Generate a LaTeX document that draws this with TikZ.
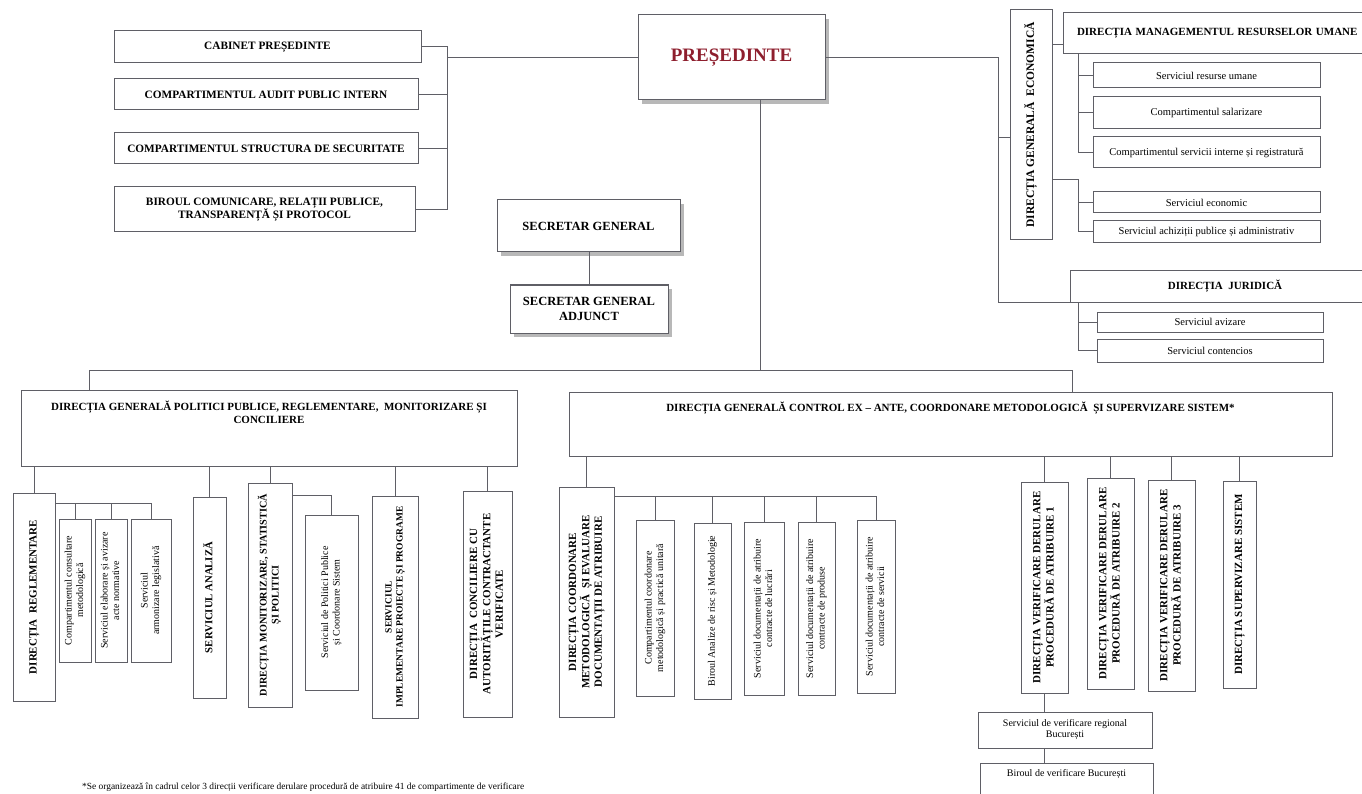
\documentclass[tikz,border=0pt]{standalone}
\usepackage{fontspec}
\setmainfont{Liberation Serif}
\usepackage{graphicx}
\usepackage{tikz}
\usetikzlibrary{shadows}
\definecolor{rule}{HTML}{5F5F66}
\definecolor{presred}{HTML}{8E1F2E}
\newcommand{\vt}[1]{\rotatebox{90}{\begin{tabular}{@{}c@{}}#1\end{tabular}}}

\begin{document}
\begin{tikzpicture}[x=1pt,y=-1pt,
box/.style={draw=rule,line width=1pt,fill=white,inner sep=0pt,outer sep=0pt,anchor=north west,align=center},
hcap/.style={box,font=\fontsize{11.3}{13}\selectfont\bfseries},
hsm/.style={box,font=\fontsize{10.5}{12}\selectfont},
vcap/.style={box,font=\fontsize{10.5}{12}\selectfont\bfseries},
vsm/.style={box,font=\fontsize{10}{11.5}\selectfont},
boss/.style={box,drop shadow={shadow xshift=4pt,shadow yshift=-4pt,fill=black!55},font=\fontsize{12.5}{15}\selectfont\bfseries},
ln/.style={draw=rule,line width=1pt},
note/.style={font=\fontsize{9.4}{10}\selectfont,anchor=west,inner sep=0pt}]
\useasboundingbox (0,0) rectangle (1362,794);
\clip (0,0) rectangle (1362,794);
\fill[white] (0,0) rectangle (1362,794);
% conducere
\node[box,drop shadow={shadow xshift=4pt,shadow yshift=-4pt,fill=black!55},minimum width=187pt,minimum height=85pt,font=\fontsize{19}{22}\selectfont\bfseries,text=presred] (pres) at (638,15) {PREȘEDINTE};
\node[boss,minimum width=183pt,minimum height=52pt] (sg) at (497,200) {SECRETAR GENERAL};
\node[boss,minimum width=158pt,minimum height=48pt] (sga) at (510,285) {SECRETAR GENERAL\\ADJUNCT};
\draw[ln] (sg.south -| sga.north) -- (sga.north);
% subordonate direct presedintelui
\node[hcap,minimum width=307pt,minimum height=32pt] (cab) at (114,31) {CABINET PREȘEDINTE};
\node[hcap,minimum width=304pt,minimum height=31pt] (audit) at (114,79) {COMPARTIMENTUL AUDIT PUBLIC INTERN};
\node[hcap,minimum width=304pt,minimum height=31pt] (secur) at (114,133) {COMPARTIMENTUL STRUCTURA DE SECURITATE};
\node[hcap,minimum width=301pt,minimum height=45pt] (birou) at (114,187) {BIROUL COMUNICARE, RELAȚII PUBLICE,\\TRANSPARENȚĂ ȘI PROTOCOL};
\coordinate (lbus) at (447,53);
\draw[ln] (pres.west) -- (pres.west -| lbus);
\draw[ln] (cab.east) -- (cab.east -| lbus) -- (birou.east -| lbus) -- (birou.east);
\draw[ln] (audit.east) -- (audit.east -| lbus);
\draw[ln] (secur.east) -- (secur.east -| lbus);
% directia generala economica
\node[vcap,minimum width=42pt,minimum height=230pt,font=\fontsize{11.5}{13}\selectfont\bfseries] (dge) at (1010,10) {\vt{DIRECȚIA GENERALĂ~ ECONOMICĂ}};
\node[hcap,minimum height=41pt,text width=300pt,inner xsep=14pt,align=left,font=\fontsize{11}{13}\selectfont\bfseries] (dmru) at (1063,13) {DIRECȚIA MANAGEMENTUL RESURSELOR UMANE};
\node[hsm,minimum width=227pt,minimum height=25pt] (sru) at (1093,63) {Serviciul resurse umane};
\node[hsm,minimum width=227pt,minimum height=32pt] (sal) at (1093,97) {Compartimentul salarizare};
\node[hsm,minimum width=227pt,minimum height=31pt] (sir) at (1093,137) {Compartimentul servicii interne și registratură};
\node[hsm,minimum width=227pt,minimum height=21pt] (sec) at (1093,192) {Serviciul economic};
\node[hsm,minimum width=227pt,minimum height=22pt] (sap) at (1093,221) {Serviciul achiziții publice și administrativ};
\coordinate (ebus) at (1078,180);
\draw[ln] ([yshift=-35pt]dge.north east) -- ([yshift=-35pt]dge.north east -| dmru.west) ;
\draw[ln] (dmru.south -| ebus) |- (sir.west);
\draw[ln] (sru.west -| ebus) -- (sru.west);
\draw[ln] (sal.west -| ebus) -- (sal.west);
\draw[ln] (dge.east |- ebus) -- (ebus) |- (sap.west);
\draw[ln] (sec.west -| ebus) -- (sec.west);
% directia juridica
\node[hcap,minimum width=310pt,minimum height=31pt,font=\fontsize{11}{13}\selectfont\bfseries] (jur) at (1070,271) {DIRECȚIA~ JURIDICĂ};
\node[hsm,minimum width=226pt,minimum height=20pt] (sav) at (1097,312) {Serviciul avizare};
\node[hsm,minimum width=226pt,minimum height=23pt] (scont) at (1097,339) {Serviciul contencios};
\coordinate (rbus) at (998,302);
\draw[ln] (pres.east) -| (rbus) -- (jur.south west);
\draw[ln] ([yshift=-13pt]dge.west -| rbus) -- ([yshift=-13pt]dge.west);
\draw[ln] (jur.south -| ebus) |- (scont.west);
\draw[ln] (sav.west -| ebus) -- (sav.west);
% directii generale
\node[hcap,minimum width=496pt,minimum height=76pt,font=\fontsize{11}{13}\selectfont\bfseries] (dgpp) at (21,390) {\parbox[c][76pt][t]{480pt}{\vspace*{11pt}\centering DIRECȚIA GENERALĂ POLITICI PUBLICE, REGLEMENTARE,~ MONITORIZARE ȘI\\CONCILIERE}};
\node[hcap,minimum width=763pt,minimum height=64pt,font=\fontsize{11}{13}\selectfont\bfseries] (dgc) at (569,392) {\parbox[c][64pt][t]{750pt}{\vspace*{10pt}\centering DIRECȚIA GENERALĂ CONTROL EX – ANTE, COORDONARE METODOLOGICĂ~ ȘI SUPERVIZARE SISTEM*}};
\coordinate (mbus) at (760,370);
\coordinate (bl) at (89,370);
\coordinate (br) at (1072,370);
\draw[ln] (pres.south -| mbus) -- (mbus);
\draw[ln] (dgpp.north -| bl) -- (bl) -- (br) -- (dgc.north -| br);
% politici publice
\node[vcap,minimum width=42pt,minimum height=208pt,font=\fontsize{11}{12.5}\selectfont\bfseries] (reg) at (13,493) {\vt{DIRECȚIA~ REGLEMENTARE}};
\node[vsm,minimum width=32pt,minimum height=143pt] (cmet) at (59,519) {\vt{Compartimentul consultare\\metodologică}};
\node[vsm,minimum width=32pt,minimum height=143pt] (selab) at (95,519) {\vt{Serviciul elaborare și avizare\\acte normative}};
\node[vsm,minimum width=40pt,minimum height=143pt] (sarm) at (131,519) {\vt{Serviciul\\armonizare legislativă}};
\node[vcap,minimum width=33pt,minimum height=201pt,font=\fontsize{10.7}{12}\selectfont\bfseries] (anal) at (193,497) {\vt{SERVICIUL ANALIZĂ}};
\node[vcap,minimum width=44pt,minimum height=224pt,font=\fontsize{10.2}{12}\selectfont\bfseries] (mon) at (248,483) {\vt{DIRECȚIA MONITORIZARE, STATISTICĂ\\ȘI POLITICI}};
\node[vsm,minimum width=53pt,minimum height=175pt] (spp) at (305,515) {\vt{Serviciul de Politici Publice\\și Coordonare Sistem}};
\node[vcap,minimum width=46pt,minimum height=222pt,font=\fontsize{9.5}{11}\selectfont\bfseries] (impl) at (372,496) {\vt{SERVICIUL\\IMPLEMENTARE PROIECTE ȘI PROGRAME}};
\node[vcap,minimum width=49pt,minimum height=226pt,font=\fontsize{11}{12.5}\selectfont\bfseries] (conc) at (463,491) {\vt{DIRECȚIA~ CONCILIERE CU\\AUTORITĂȚILE CONTRACTANTE\\VERIFICATE}};
\foreach \n in {reg,anal,mon,impl,conc}
  \draw[ln] (dgpp.south -| \n.north) -- (\n.north);
\draw[ln] ([yshift=-10pt]reg.north east) -| (sarm.north);
\draw[ln] ([yshift=-10pt]reg.north east -| cmet.north) -- (cmet.north);
\draw[ln] ([yshift=-10pt]reg.north east -| selab.north) -- (selab.north);
\draw[ln] ([yshift=-12pt]mon.north east) -| (spp.north);
% control ex-ante
\node[vcap,minimum width=55pt,minimum height=230pt,font=\fontsize{11}{12.5}\selectfont\bfseries] (coord) at (559,487) {\vt{DIRECȚIA COORDONARE\\METODOLOGICĂ~ ȘI EVALUARE\\DOCUMENTAȚII DE ATRIBUIRE}};
\node[vsm,minimum width=38pt,minimum height=176pt] (ccm) at (636,520) {\vt{Compartimentul coordonare\\metodologică și practică unitară}};
\node[vsm,minimum width=37pt,minimum height=176pt] (bar) at (694,523) {\vt{Biroul Analize de risc și Metodologie}};
\node[vsm,minimum width=40pt,minimum height=173pt] (sdl) at (744,522) {\vt{Serviciul documentații de atribuire\\contracte de lucrări}};
\node[vsm,minimum width=37pt,minimum height=173pt] (sdp) at (798,522) {\vt{Serviciul documentații de atribuire\\contracte de produse}};
\node[vsm,minimum width=38pt,minimum height=173pt] (sds) at (857,520) {\vt{Serviciul documentații de atribuire\\contracte de servicii}};
\node[vcap,minimum width=47pt,minimum height=211pt,font=\fontsize{11}{12.5}\selectfont\bfseries] (vf1) at (1021,482) {\vt{DIRECȚIA VERIFICARE DERULARE\\PROCEDURĂ DE ATRIBUIRE 1}};
\node[vcap,minimum width=47pt,minimum height=211pt,font=\fontsize{11}{12.5}\selectfont\bfseries] (vf2) at (1087,478) {\vt{DIRECȚIA VERIFICARE DERULARE\\PROCEDURĂ DE ATRIBUIRE 2}};
\node[vcap,minimum width=47pt,minimum height=211pt,font=\fontsize{11}{12.5}\selectfont\bfseries] (vf3) at (1148,480) {\vt{DIRECȚIA VERIFICARE DERULARE\\PROCEDURĂ DE ATRIBUIRE 3}};
\node[vcap,minimum width=33pt,minimum height=207pt,font=\fontsize{11}{12.5}\selectfont\bfseries] (sup) at (1223,481) {\vt{DIRECȚIA SUPERVIZARE SISTEM}};
\foreach \n in {coord,vf1,vf2,vf3,sup}
  \draw[ln] (dgc.south -| \n.north) -- (\n.north);
\draw[ln] ([yshift=-9pt]coord.north east) -| (sds.north);
\foreach \n in {ccm,bar,sdl,sdp}
  \draw[ln] ([yshift=-9pt]coord.north east -| \n.north) -- (\n.north);
\node[hsm,minimum width=174pt,minimum height=36pt,font=\fontsize{10}{11}\selectfont] (svr) at (978,712) {Serviciul de verificare regional\\București};
\node[hsm,minimum width=173pt,minimum height=44pt,font=\fontsize{10}{11}\selectfont] (bvb) at (980,763) {\parbox[c][44pt][t]{170pt}{\vspace*{6pt}\centering Biroul de verificare București}};
\draw[ln] (vf1.south) -- (vf1.south |- svr.north);
\draw[ln] (svr.south -| vf1.south) -- (bvb.north -| vf1.south);
% nota
\node[note] (nota) at (82,787) {*Se organizează în cadrul celor 3 direcții verificare derulare procedură de atribuire 41 de compartimente de verificare};
\end{tikzpicture}
\end{document}
